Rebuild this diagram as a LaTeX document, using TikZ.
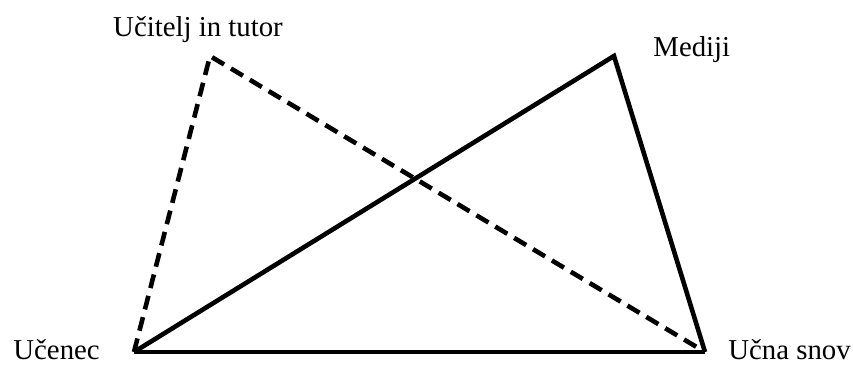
\documentclass[tikz,border=0pt]{standalone}
\usepackage{fontspec}
\setmainfont{Liberation Serif}
\usepackage{tikz}
\usetikzlibrary{positioning}

\begin{document}
\begin{tikzpicture}[x=0.5pt, y=-0.5pt,
  lbl/.style={font=\fontsize{14.4}{17}\selectfont, inner sep=0pt},
  solidln/.style={line width=2.3pt, line join=miter, line cap=butt},
  dashln/.style={line width=2.3pt, dash pattern=on 7pt off 4pt}
]
\useasboundingbox (0,0) rectangle (853,365);

% vertices
\coordinate (learner) at (134,352);
\coordinate (content) at (705,352);
\coordinate (teacher) at (210,56);
\coordinate (media) at (614,56);

% labels
\node[lbl, anchor=base] (teacherlbl) at (198,36) {Učitelj in tutor};
\node[lbl, anchor=base west] (medialbl) at (653,56) {Mediji};
\node[lbl, anchor=base west] (learnerlbl) at (13,359) {Učenec};
\node[lbl, anchor=base west] (contentlbl) at (728,359) {Učna snov};

% edges
\draw[dashln] (learner) -- (teacher) -- (content);
\draw[solidln] (learner) -- (media) -- (content);
\draw[solidln] (learner) -- (content);
\end{tikzpicture}
\end{document}
